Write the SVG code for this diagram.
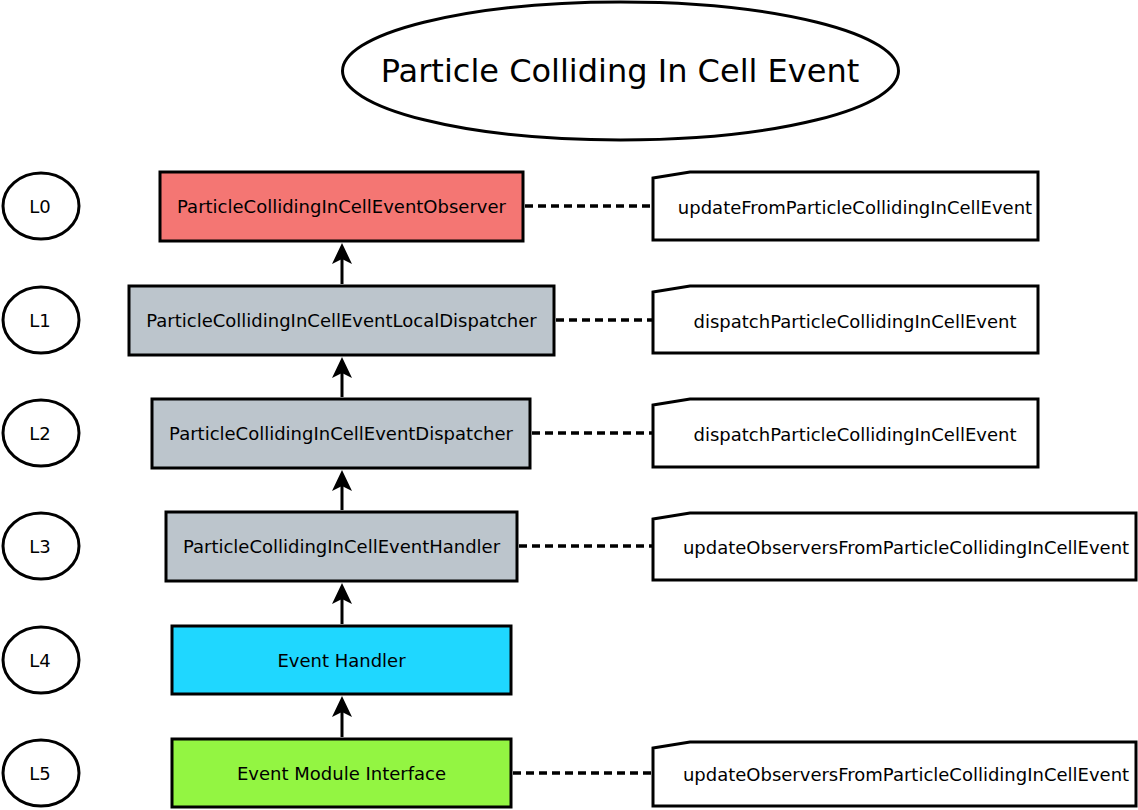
<svg xmlns="http://www.w3.org/2000/svg" width="1138" height="810" viewBox="0 0 1138 810">
<defs>
<style>
text{font-family:"DejaVu Sans","Noto Sans",sans-serif;fill:#000;text-anchor:middle;dominant-baseline:central}
.box{stroke:#000;stroke-width:3}
.lvl{fill:#fff;stroke:#000;stroke-width:3}
.note{fill:#fff;stroke:#000;stroke-width:3;stroke-linejoin:miter}
.dash{stroke:#000;stroke-width:3.5;stroke-dasharray:8 5;fill:none}
.shaft{stroke:#000;stroke-width:3}
.head{fill:#000}
.t{font-size:18px}
</style>
</defs>
<g id="title">
<ellipse cx="620.5" cy="71" rx="278" ry="69" fill="#fff" stroke="#000" stroke-width="3"/>
<text x="620" y="71" style="font-size:32px">Particle Colliding In Cell Event</text>
</g>
<g id="L0"><ellipse class="lvl" cx="41" cy="206" rx="38" ry="33"/><text class="t" x="40" y="206">L0</text></g>
<g id="L1"><ellipse class="lvl" cx="41" cy="320" rx="38" ry="33"/><text class="t" x="40" y="320">L1</text></g>
<g id="L2"><ellipse class="lvl" cx="41" cy="433" rx="38" ry="33"/><text class="t" x="40" y="433">L2</text></g>
<g id="L3"><ellipse class="lvl" cx="41" cy="546" rx="38" ry="33"/><text class="t" x="40" y="546">L3</text></g>
<g id="L4"><ellipse class="lvl" cx="41" cy="660" rx="38" ry="33"/><text class="t" x="40" y="660">L4</text></g>
<g id="L5"><ellipse class="lvl" cx="41" cy="773" rx="38" ry="33"/><text class="t" x="40" y="773">L5</text></g>

<g id="observer"><rect class="box" x="160" y="172" width="363" height="69" fill="#f47673"/><text class="t" x="341.5" y="206">ParticleCollidingInCellEventObserver</text></g>
<g id="localDispatcher"><rect class="box" x="129" y="286" width="425" height="69" fill="#bcc5cc"/><text class="t" x="341.5" y="320">ParticleCollidingInCellEventLocalDispatcher</text></g>
<g id="dispatcher"><rect class="box" x="152" y="399" width="378" height="69" fill="#bcc5cc"/><text class="t" x="341" y="433">ParticleCollidingInCellEventDispatcher</text></g>
<g id="handler"><rect class="box" x="166" y="512" width="351" height="69" fill="#bcc5cc"/><text class="t" x="341.5" y="546">ParticleCollidingInCellEventHandler</text></g>
<g id="eventHandler"><rect class="box" x="172" y="626" width="339" height="68" fill="#1fd7ff"/><text class="t" x="341.5" y="660">Event Handler</text></g>
<g id="moduleInterface"><rect class="box" x="172" y="739" width="339" height="68" fill="#93f542"/><text class="t" x="341.5" y="773">Event Module Interface</text></g>

<g id="note0"><path class="note" d="M653,178 L690,172 L1038,172 L1038,240 L653,240 Z"/><text class="t" x="855" y="207">updateFromParticleCollidingInCellEvent</text></g>
<g id="note1"><path class="note" d="M653,292 L690,286 L1038,286 L1038,353 L653,353 Z"/><text class="t" x="855" y="321">dispatchParticleCollidingInCellEvent</text></g>
<g id="note2"><path class="note" d="M653,405 L690,399 L1038,399 L1038,467 L653,467 Z"/><text class="t" x="855" y="434">dispatchParticleCollidingInCellEvent</text></g>
<g id="note3"><path class="note" d="M653,519 L690,513 L1136,513 L1136,580 L653,580 Z"/><text class="t" x="906" y="547">updateObserversFromParticleCollidingInCellEvent</text></g>
<g id="note5"><path class="note" d="M653,748 L690,742 L1136,742 L1136,806 L653,806 Z"/><text class="t" x="906" y="774">updateObserversFromParticleCollidingInCellEvent</text></g>

<g id="connectors">
<line class="dash" x1="525" y1="206" x2="652" y2="206"/>
<line class="dash" x1="556" y1="320" x2="652" y2="320"/>
<line class="dash" x1="532" y1="433" x2="652" y2="433"/>
<line class="dash" x1="519" y1="546" x2="652" y2="546"/>
<line class="dash" x1="513" y1="773" x2="652" y2="773"/>
<line class="shaft" x1="342" y1="284" x2="342" y2="258"/>
<polygon class="head" points="342,243 332,264 342,259 352,264"/>
<line class="shaft" x1="342" y1="397" x2="342" y2="372"/>
<polygon class="head" points="342,357 332,378 342,373 352,378"/>
<line class="shaft" x1="342" y1="510" x2="342" y2="485"/>
<polygon class="head" points="342,470 332,491 342,486 352,491"/>
<line class="shaft" x1="342" y1="624" x2="342" y2="598"/>
<polygon class="head" points="342,583 332,604 342,599 352,604"/>
<line class="shaft" x1="342" y1="737" x2="342" y2="711"/>
<polygon class="head" points="342,696 332,717 342,712 352,717"/>
</g>
</svg>
